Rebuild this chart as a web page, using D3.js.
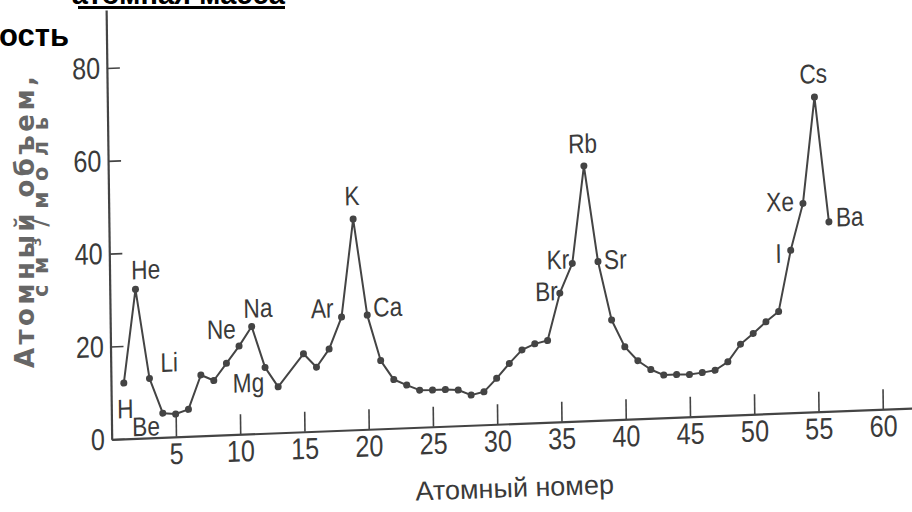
<!DOCTYPE html>
<html>
<head>
<meta charset="utf-8">
<script src="https://cdn.jsdelivr.net/npm/d3@7"></script>
<style>
  body { margin: 0; background: #fff; }
  svg { display: block; background: #fff; }
  text { font-family: 'Liberation Sans', Arial, sans-serif; }
</style>
</head>
<body>
<svg width="912" height="512"></svg>
<script>
// атомные номера и атомные объемы (см3/моль)
const atomicNumbers = [1, 2, 3, 4, 5, 6, 7, 8, 9, 10, 11, 12, 13, 15, 16, 17, 18, 19, 20,
    21, 22, 23, 24, 25, 26, 27, 28, 29, 30, 31, 32, 33, 34, 35, 36, 37, 38, 39, 40,
    41, 42, 43, 44, 45, 46, 47, 48, 49, 50, 51, 52, 53, 54, 55, 56]
const atomicVolumes = [12.0, 32.1, 12.8, 5.2, 4.9, 5.8, 13.1, 11.8, 15.4, 19.0, 23.1, 14.2, 9.9, 16.8, 13.8, 17.6, 24.4, 45.4, 24.6,
    14.7, 10.5, 9.2, 8.0, 7.9, 7.9, 7.7, 6.5, 7.1, 9.9, 13.0, 15.8, 17.0, 17.6, 27.7, 34.0, 54.9, 34.2, 21.5, 15.6,
    12.5, 10.5, 9.2, 9.2, 9.1, 9.4, 9.8, 11.5, 15.2, 17.4, 19.8, 21.9, 35.0, 45.0, 67.8, 40.8]

const labelSymbols = ['H', 'He', 'Li', 'Be', 'Ne', 'Na', 'Mg', 'Ar', 'K', 'Ca', 'Br', 'Kr', 'Rb', 'Sr', 'I', 'Xe', 'Cs', 'Ba']
const labelNumbers = [1, 2, 3, 4, 10, 11, 12, 18, 19, 20, 35, 36, 37, 38, 53, 54, 55, 56]

const xTicks = [5, 10, 15, 20, 25, 30, 35, 40, 45, 50, 55, 60]
const yTicks = [0, 20, 40, 60, 80]

const xTitle = 'Атомный номер'
const yTitle1 = 'Атомный объем,'
const yTitle2 = 'см³/моль'

const svg = d3.select('svg')
const ink = '#444'
const NARROW = 0.84

// подписи к элементам: [anchor, dx, dy]
const placement = {
    H: ['start', -7, 35], He: ['start', -4, -10], Li: ['start', 11, -6], Be: ['end', -3, 22],
    Ne: ['end', -3, -8], Na: ['start', -8, -9], Mg: ['end', -1, 24], Ar: ['end', -8, 0],
    K: ['middle', -1, -14], Ca: ['start', 6, 2], Br: ['end', -2, 7], Kr: ['end', -3, 5],
    Rb: ['middle', -1, -13], Sr: ['start', 6, 8], I: ['end', -9, 12], Xe: ['end', -9, 7],
    Cs: ['middle', -1, -14], Ba: ['start', 7, 5]
}

const x = d3.scaleLinear().domain([0, 62.25]).range([0, 800])
const y = d3.scaleLinear().domain([0, 92.5]).range([0, -429.3])

// скан немного перекошен
const plot = svg.append('g')
    .attr('transform', 'matrix(1,-0.039,0.013,1,111.7,439.3)')

const xAxis = plot.append('g')
    .call(d3.axisBottom(x).tickValues(xTicks).tickSizeInner(-20).tickSizeOuter(0).tickPadding(6))
const yAxis = plot.append('g')
    .call(d3.axisLeft(y).tickValues(yTicks).tickSizeInner(-13).tickSizeOuter(0).tickPadding(8))

for (const ax of [xAxis, yAxis]) {
    ax.attr('font-size', null).attr('font-family', null)
    ax.select('.domain').attr('stroke', ink).attr('stroke-width', 2.2)
    ax.selectAll('.tick line').attr('stroke', ink).attr('stroke-width', 1.6)
    ax.selectAll('.tick text')
        .attr('fill', '#3a3a3a')
        .attr('transform', `scale(${NARROW},1)`)
        .style('font-size', '30px')
}

const points = atomicNumbers.map((z, i) => ({ z: z, v: atomicVolumes[i] }))

plot.append('path')
    .datum(points)
    .attr('fill', 'none')
    .attr('stroke', ink)
    .attr('stroke-width', 2)
    .attr('stroke-linejoin', 'round')
    .attr('d', d3.line().x(d => x(d.z)).y(d => y(d.v)))

plot.append('g')
    .selectAll('circle')
    .data(points)
    .enter()
    .append('circle')
    .attr('cx', d => x(d.z))
    .attr('cy', d => y(d.v))
    .attr('r', 3.5)
    .attr('fill', ink)

const labels = labelSymbols.map((s, i) => {
    const z = labelNumbers[i]
    return { s: s, z: z, v: atomicVolumes[atomicNumbers.indexOf(z)] }
})

plot.append('g')
    .selectAll('text')
    .data(labels)
    .enter()
    .append('text')
    .attr('transform', d => `translate(${x(d.z) + placement[d.s][1]},${y(d.v) + placement[d.s][2]}) scale(${NARROW},1)`)
    .attr('text-anchor', d => placement[d.s][0])
    .attr('fill', '#3a3a3a')
    .style('font-size', '27px')
    .text(d => d.s)

// подписи осей
svg.append('text')
    .attr('transform', 'translate(34,222) rotate(-90)')
    .attr('text-anchor', 'middle')
    .attr('textLength', 292)
    .attr('lengthAdjust', 'spacing')
    .style('font-family', "'DejaVu Sans', sans-serif")
    .attr('font-weight', 'bold')
    .attr('font-size', 26)
    .attr('fill', '#666')
    .text(yTitle1)

svg.append('text')
    .attr('transform', 'translate(48,207) rotate(-90)')
    .attr('text-anchor', 'middle')
    .attr('textLength', 180)
    .attr('lengthAdjust', 'spacing')
    .style('font-family', "'DejaVu Sans', sans-serif")
    .attr('font-weight', 'bold')
    .attr('font-size', 21)
    .attr('fill', '#666')
    .text(yTitle2)

svg.append('text')
    .attr('transform', `translate(515,497) rotate(-2)`)
    .attr('text-anchor', 'middle')
    .attr('font-size', 27)
    .attr('fill', '#3a3a3a')
    .text(xTitle)

// обрезанный заголовок слайда
svg.append('text')
    .attr('x', 285).attr('y', 4)
    .attr('text-anchor', 'end')
    .attr('font-weight', 'bold')
    .attr('font-size', 29)
    .attr('fill', '#000')
    .text('атомная масса')
svg.append('rect')
    .attr('x', 78).attr('y', 6).attr('width', 207).attr('height', 3)
    .attr('fill', '#000')
svg.append('text')
    .attr('x', 69).attr('y', 46)
    .attr('text-anchor', 'end')
    .attr('font-weight', 'bold')
    .attr('font-size', 31)
    .attr('fill', '#000')
    .text('ость')
</script>
</body>
</html>
